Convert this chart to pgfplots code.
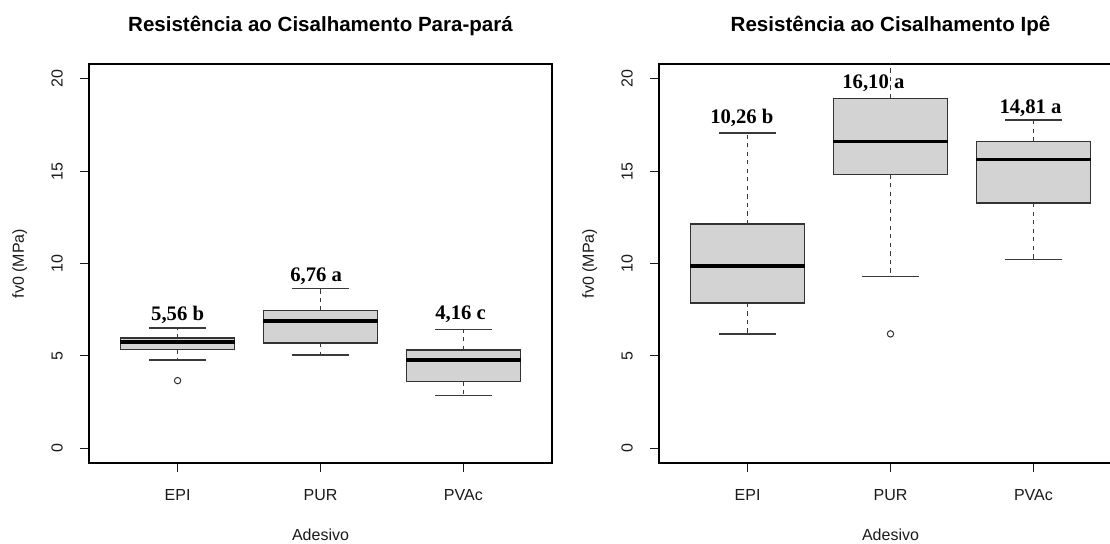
\documentclass[border=0pt]{standalone}
\usepackage{pgfplots}
\pgfplotsset{compat=1.18}
\usepgfplotslibrary{statistics}
\usepackage{fontspec}
\setmainfont{Liberation Sans}
\newfontfamily\labfont{Liberation Serif}
\definecolor{boxfill}{HTML}{D3D3D3}
\definecolor{boxline}{HTML}{333333}
\definecolor{whisk}{HTML}{3A3A3A}
\definecolor{txt}{HTML}{1A1A1A}

\pgfplotsset{
  boxplot/draw/whisker/.code 2 args={%
    \draw[whisk, line width=1.1pt, dash pattern=on 3.2pt off 3.2pt]
      (boxplot cs:#1) -- (boxplot cs:#2);
  },
  rbox/.style={
    draw=boxline, mark=o, mark size=2.4pt,
    mark options={boxline, line width=0.75pt, solid},
    boxplot/draw direction=y,
    boxplot/box extend=0.8,
    boxplot/every box/.style={draw=boxline, fill=boxfill, line width=1pt},
    boxplot/every median/.style={draw=black, line width=2.7pt},
  },
  caps/.style={only marks, mark=-, mark size=21.4pt, whisk,
    mark options={line width=1.1pt, solid}},
  rpanel/.style={
    scale only axis, width=347.25pt, height=299.25pt,
    anchor=south west,
    xmin=0.38, xmax=3.62, ymin=-0.8, ymax=20.8,
    xtick={1,2,3}, xticklabels={EPI,PUR,PVAc},
    ytick={0,5,10,15,20}, yticklabels={0,5,10,15,20},
    xtick pos=bottom, ytick pos=left, tick align=outside,
    major tick length=6.75pt,
    major tick style={line width=0.75pt, txt},
    axis line style={line width=0.9pt, black},
    ticklabel style={font=\fontsize{12}{14}\selectfont, text=txt},
    yticklabel style={rotate=90, anchor=south, inner sep=0pt},
    xticklabel style={anchor=north, inner sep=0pt},
    yticklabel shift=12.75pt,
    xticklabel shift=13pt,
    xlabel={Adesivo}, ylabel={fv0 (MPa)},
    label style={font=\fontsize{12}{14}\selectfont, text=txt},
    xlabel style={at={(axis description cs:0.5,0)}, anchor=center, yshift=-54pt},
    ylabel style={at={(axis description cs:0,0.5)}, anchor=center, yshift=52pt},
    title style={at={(axis description cs:0.5,1)}, anchor=center, yshift=22.75pt,
      font=\bfseries\fontsize{15.4}{18}\selectfont},
  },
}
\tikzset{vlab/.style={font=\labfont\bfseries\fontsize{15.5}{18}\selectfont, anchor=base, text=black}}

\begin{document}
\begin{tikzpicture}
\useasboundingbox (0pt,0pt) rectangle (832.5pt,407.25pt);
\clip (0pt,0pt) rectangle (832.5pt,407.25pt);

\begin{axis}[rpanel, at={(66.75pt,60pt)}, title={Resistência ao Cisalhamento Para-pará}]
\addplot[caps] coordinates {(1,4.77) (1,6.50) (2,5.05) (2,8.66) (3,2.85) (3,6.43)};
\addplot[rbox, boxplot prepared={draw position=1, lower whisker=4.77, lower quartile=5.34,
  median=5.74, upper quartile=5.96, upper whisker=6.50}]
  table[row sep=\\, y index=0] {data\\ 3.66\\};
\addplot[rbox, boxplot prepared={draw position=2, lower whisker=5.05, lower quartile=5.69,
  median=6.90, upper quartile=7.45, upper whisker=8.66}]
  coordinates {};
\addplot[rbox, boxplot prepared={draw position=3, lower whisker=2.85, lower quartile=3.61,
  median=4.77, upper quartile=5.32, upper whisker=6.43}]
  coordinates {};
\node[vlab] at (axis cs:1,6.92) {5,56 b};
\node[vlab] at (axis cs:1.97,9.03) {6,76 a};
\node[vlab] at (axis cs:2.98,6.95) {4,16 c};
\end{axis}

\begin{axis}[rpanel, at={(494.25pt,60pt)}, title={Resistência ao Cisalhamento Ipê}]
\addplot[caps] coordinates {(1,6.19) (1,17.06) (2,9.30) (3,10.22) (3,17.76)};
\addplot[rbox, boxplot prepared={draw position=1, lower whisker=6.19, lower quartile=7.87,
  median=9.87, upper quartile=12.13, upper whisker=17.06}]
  coordinates {};
\addplot[rbox, boxplot prepared={draw position=2, lower whisker=9.30, lower quartile=14.82,
  median=16.61, upper quartile=18.95, upper whisker=23.0}]
  table[row sep=\\, y index=0] {data\\ 6.19\\};
\addplot[rbox, boxplot prepared={draw position=3, lower whisker=10.22, lower quartile=13.27,
  median=15.63, upper quartile=16.61, upper whisker=17.76}]
  coordinates {};
\node[vlab] at (axis cs:0.96,17.56) {10,26 b};
\node[vlab] at (axis cs:1.88,19.50) {16,10 a};
\node[vlab] at (axis cs:2.98,18.10) {14,81 a};
\end{axis}
\end{tikzpicture}
\end{document}
